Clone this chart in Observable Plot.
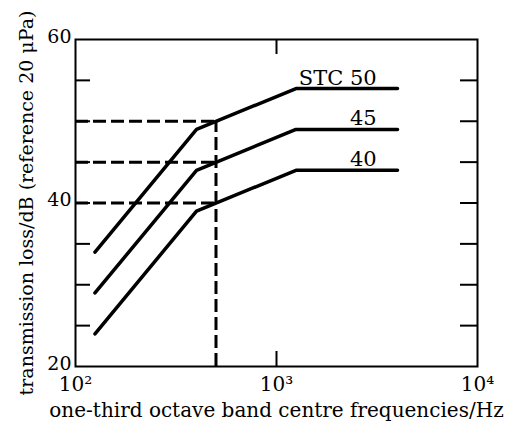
<!DOCTYPE html>
<html><head><meta charset="utf-8">
<script src="https://cdn.jsdelivr.net/npm/d3@7"></script>
<script src="https://cdn.jsdelivr.net/npm/@observablehq/plot@0.6"></script>
<style>body{margin:0;background:#fff} svg{display:block}</style>
</head><body><div id="chart"></div>
<script>
// Frequencies (Hz) of the contour break points
const freqs = [125, 400, 1250, 4000];
// Transmission loss (dB) of each STC contour at those frequencies
const stc50 = [34, 49, 54, 54];
const stc45 = [29, 44, 49, 49];
const stc40 = [24, 39, 44, 44];
const stcRatings = [50, 45, 40];
const stcLabels = ["STC 50", "45", "40"];
const refFreq = 500;
const labelFreq = 3150;
const xTicks = [100, 1000, 10000];
const xTickLabels = ["10²", "10³", "10⁴"];
const yTickLabels = [20, 40, 60];
const yInnerTicks = [25, 30, 35, 40, 45, 50, 55];
const xInnerTicks = [1000];

const W = 515, H = 423;
const mL = 75, mR = 38, mT = 39, mB = 57;
const fw = W - mL - mR, fh = H - mT - mB;
const tl = 15;

const series = [stc50, stc45, stc40];
const lineData = series.flatMap((vals, i) => vals.map((v, j) => ({f: freqs[j], tl: v, s: stcRatings[i]})));
const labelData = stcRatings.map((r, i) => ({f: labelFreq, tl: series[i][3], text: stcLabels[i]}));

const chart = Plot.plot({
  width: W, height: H,
  marginLeft: mL, marginRight: mR, marginTop: mT, marginBottom: mB,
  style: {fontFamily: "DejaVu Serif", fontSize: "20px", color: "black", background: "white"},
  x: {type: "log", domain: [xTicks[0], xTicks[2]]},
  y: {domain: [yTickLabels[0], yTickLabels[2]]},
  marks: [
    Plot.frame({stroke: "black", strokeWidth: 2}),
    Plot.tickY(yInnerTicks, {y: d => d, insetRight: fw - tl, stroke: "black", strokeWidth: 2}),
    Plot.tickY(yInnerTicks, {y: d => d, insetLeft: fw - tl - 2, stroke: "black", strokeWidth: 2}),
    Plot.tickX(xInnerTicks, {x: d => d, insetBottom: fh - tl, stroke: "black", strokeWidth: 2}),
    Plot.tickX(xInnerTicks, {x: d => d, insetTop: fh - tl, stroke: "black", strokeWidth: 2}),
    Plot.axisY(yTickLabels, {tickSize: 0, tickPadding: 4, fontSize: 19, dy: -3,
      label: "transmission loss/dB (reference 20 μPa)", labelAnchor: "center", labelArrow: "none", labelOffset: 56}),
    Plot.axisX(xTicks, {tickSize: 0, tickPadding: 10, fontSize: 20,
      tickFormat: d => xTickLabels[xTicks.indexOf(d)],
      label: "one-third octave band centre frequencies/Hz", labelAnchor: "center", labelArrow: "none", labelOffset: 50}),
    Plot.ruleY(stcRatings, {y: d => d, x1: xTicks[0], x2: refFreq, stroke: "black", strokeWidth: 3, strokeDasharray: "13,5"}),
    Plot.ruleX([refFreq], {y1: yTickLabels[0], y2: stcRatings[0], stroke: "black", strokeWidth: 3, strokeDasharray: "13,5"}),
    Plot.line(lineData, {x: "f", y: "tl", z: "s", stroke: "black", strokeWidth: 3.5, strokeLinecap: "round", strokeLinejoin: "round"}),
    Plot.text(labelData, {x: "f", y: "tl", text: "text", textAnchor: "end", lineAnchor: "bottom", dy: -4, fontSize: 21})
  ]
});
document.getElementById("chart").appendChild(chart);
</script>
</body></html>
